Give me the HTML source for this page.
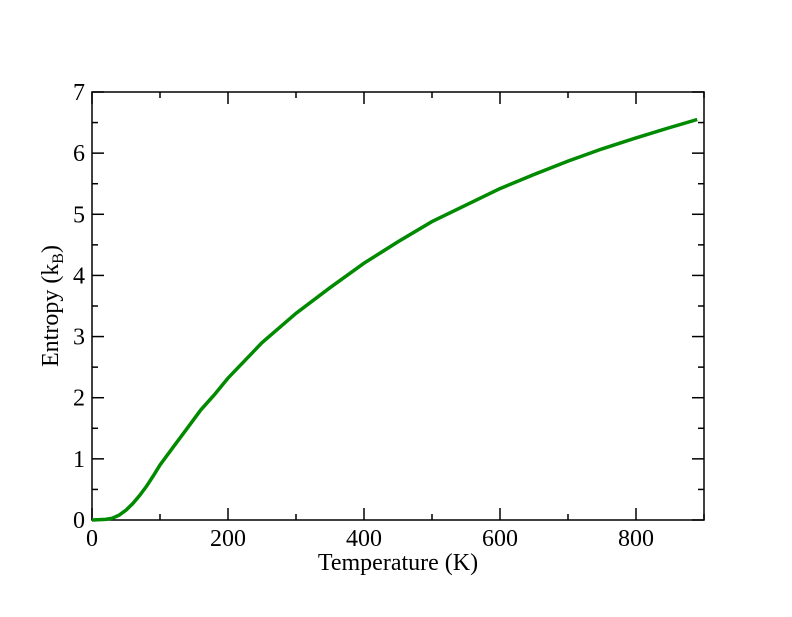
<!DOCTYPE html>
<html><head><meta charset="utf-8"><style>
body{margin:0;background:#fff}
text{font-family:"Liberation Serif",serif;fill:#000}
</style></head><body>
<svg id="chart" width="792" height="612" xmlns="http://www.w3.org/2000/svg">
<rect width="792" height="612" fill="#fff"/>
<g id="axes"></g>
<path id="curve" fill="none" stroke="#008a00" stroke-width="3.5"/>
<text x="398" y="570" font-size="24" text-anchor="middle">Temperature (K)</text>
<text transform="translate(58,306) rotate(-90)" font-size="24" text-anchor="middle">Entropy (k<tspan font-size="16" dy="5">B</tspan><tspan dy="-5">)</tspan></text>
</svg>
<script>
const temps=[0,20,30,40,50,60,70,80,90,100,120,140,160,180,200,250,300,350,400,450,500,550,600,650,700,750,800,850,890];
const entropy=[0,0.01,0.03,0.08,0.16,0.27,0.4,0.55,0.72,0.9,1.2,1.5,1.8,2.05,2.32,2.9,3.38,3.8,4.2,4.55,4.88,5.15,5.42,5.65,5.87,6.07,6.25,6.42,6.55];
const xTicks=[0,200,400,600,800];
const yTicks=[0,1,2,3,4,5,6,7];
const L=92,R=704,T=92,B=520,XMAX=900,YMAX=7;
const sx=v=>L+v/XMAX*(R-L), sy=v=>B-v/YMAX*(B-T);
const ns="http://www.w3.org/2000/svg",g=document.getElementById('axes');
function mk(t,a){const e=document.createElementNS(ns,t);for(const k in a)e.setAttribute(k,a[k]);g.appendChild(e);return e;}
const fr=mk('rect',{x:L,y:T,width:R-L,height:B-T,fill:'none',stroke:'#000','stroke-width':1.5});


for(let v=0;v<=XMAX;v+=100){const big=v%200===0,len=big?12:6;
 mk('line',{x1:sx(v),x2:sx(v),y1:B,y2:B-len,stroke:'#000','stroke-width':1.5});
 mk('line',{x1:sx(v),x2:sx(v),y1:T,y2:T+len,stroke:'#000','stroke-width':1.5});}
for(let v=0;v<=YMAX;v+=0.5){const big=v%1===0,len=big?12:6;
 mk('line',{x1:L,x2:L+len,y1:sy(v),y2:sy(v),stroke:'#000','stroke-width':1.5});
 mk('line',{x1:R,x2:R-len,y1:sy(v),y2:sy(v),stroke:'#000','stroke-width':1.5});}
xTicks.forEach(v=>{const t=mk('text',{x:sx(v),y:B+26,'font-size':24,'text-anchor':'middle'});t.textContent=v;
 
 });
yTicks.forEach(v=>{const t=mk('text',{x:L-7,y:sy(v)+8,'font-size':24,'text-anchor':'end'});t.textContent=v;
 
 });
document.getElementById('curve').setAttribute('d',temps.map((t,i)=>(i?'L':'M')+sx(t).toFixed(1)+' '+sy(entropy[i]).toFixed(1)).join(' '));
</script>
</body></html>
